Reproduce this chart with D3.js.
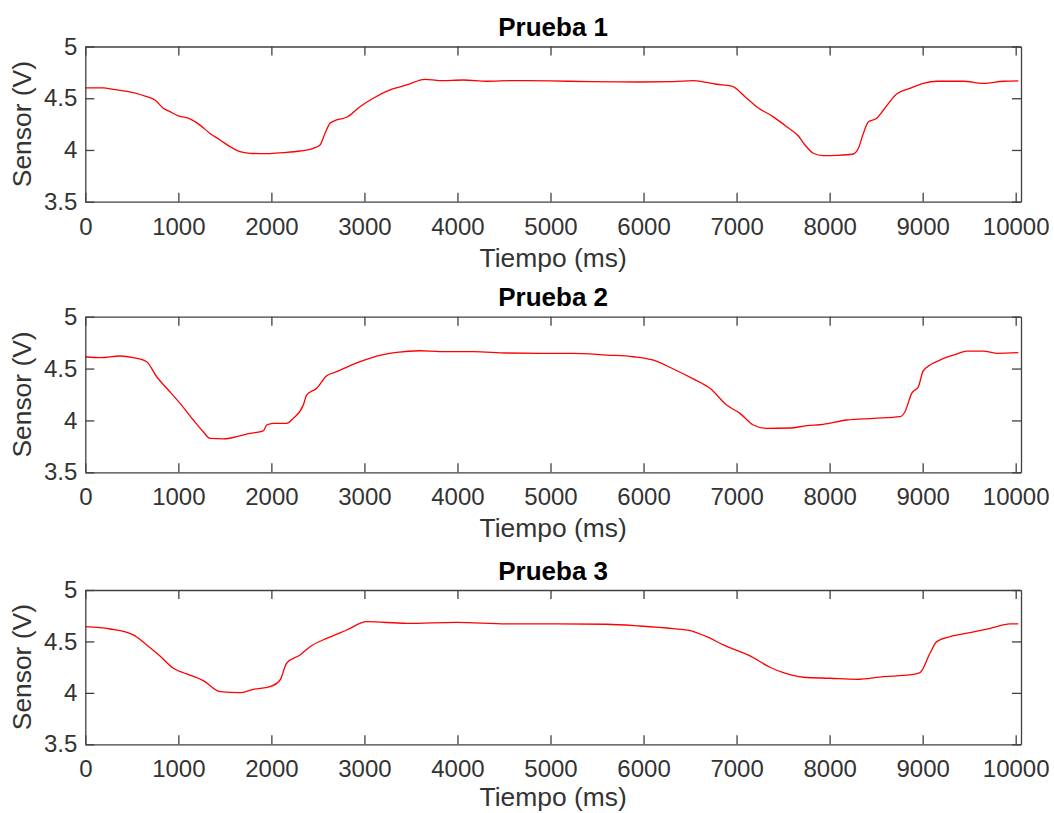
<!DOCTYPE html>
<html>
<head>
<meta charset="utf-8">
<script src="https://cdn.jsdelivr.net/npm/d3@7"></script>
<style>
  body { margin: 0; background: #fff; }
  svg { display: block; font-family: "Liberation Sans", Arial, Helvetica, sans-serif; }
</style>
</head>
<body>
<script>
// Data (time in ms, sensor in V)
const titles = ['Prueba 1', 'Prueba 2', 'Prueba 3'];
const xTicks = [0, 1000, 2000, 3000, 4000, 5000, 6000, 7000, 8000, 9000, 10000];
const yTicks = [3.5, 4, 4.5, 5];

const t1 = [0, 193, 301, 516, 660, 749, 838, 910, 1000, 1125, 1233, 1340, 1447, 1555, 1662, 1770, 1950, 2128, 2308, 2451, 2523, 2577, 2630, 2702, 2810, 2952, 3095, 3275, 3454, 3651, 3812, 4063, 4314, 4600, 4995, 5425, 5962, 6320, 6535, 6786, 6948, 7109, 7216, 7395, 7539, 7664, 7735, 7825, 7932, 8076, 8255, 8309, 8363, 8417, 8506, 8578, 8721, 8864, 9007, 9151, 9437, 9652, 9867, 10028];
const v1 = [4.60, 4.60, 4.586, 4.554, 4.515, 4.483, 4.403, 4.37, 4.33, 4.30, 4.24, 4.16, 4.097, 4.032, 3.984, 3.968, 3.964, 3.974, 3.99, 4.016, 4.048, 4.161, 4.258, 4.29, 4.316, 4.418, 4.50, 4.58, 4.628, 4.683, 4.67, 4.676, 4.664, 4.67, 4.667, 4.66, 4.657, 4.66, 4.67, 4.635, 4.618, 4.50, 4.418, 4.32, 4.225, 4.135, 4.048, 3.968, 3.945, 3.948, 3.961, 4.016, 4.161, 4.273, 4.306, 4.386, 4.541, 4.596, 4.644, 4.664, 4.664, 4.644, 4.664, 4.667];

const t2 = [0, 161, 373, 516, 660, 767, 875, 1018, 1161, 1268, 1340, 1484, 1627, 1770, 1913, 1950, 2021, 2164, 2236, 2343, 2379, 2487, 2594, 2702, 2952, 3132, 3347, 3598, 3812, 4170, 4529, 4887, 5245, 5604, 5890, 6088, 6320, 6535, 6714, 6894, 7037, 7180, 7323, 7574, 7753, 7932, 8183, 8470, 8757, 8810, 8882, 8954, 9007, 9186, 9365, 9473, 9652, 9795, 10028];
const v2 = [4.614, 4.605, 4.621, 4.605, 4.566, 4.421, 4.31, 4.165, 4.004, 3.891, 3.827, 3.823, 3.843, 3.875, 3.90, 3.956, 3.972, 3.972, 4.02, 4.148, 4.245, 4.31, 4.431, 4.47, 4.566, 4.621, 4.657, 4.672, 4.663, 4.663, 4.65, 4.647, 4.647, 4.63, 4.614, 4.585, 4.496, 4.40, 4.31, 4.148, 4.068, 3.956, 3.924, 3.927, 3.949, 3.962, 4.004, 4.02, 4.036, 4.084, 4.261, 4.325, 4.479, 4.582, 4.64, 4.669, 4.669, 4.647, 4.653];

const t3 = [0, 266, 516, 660, 803, 946, 1090, 1268, 1447, 1662, 1806, 1985, 2093, 2164, 2308, 2415, 2594, 2810, 3025, 3454, 3991, 4529, 5066, 5604, 5962, 6320, 6500, 6679, 6858, 7144, 7359, 7503, 7718, 8004, 8291, 8578, 8864, 8971, 9079, 9151, 9294, 9509, 9724, 9939, 10028];
const v3 = [4.643, 4.621, 4.563, 4.466, 4.359, 4.239, 4.184, 4.119, 4.012, 4.002, 4.035, 4.06, 4.125, 4.288, 4.368, 4.449, 4.53, 4.611, 4.692, 4.676, 4.686, 4.67, 4.67, 4.667, 4.65, 4.624, 4.605, 4.546, 4.466, 4.359, 4.249, 4.196, 4.152, 4.142, 4.132, 4.158, 4.174, 4.196, 4.385, 4.498, 4.546, 4.585, 4.627, 4.67, 4.67];

const times = [t1, t2, t3];
const volts = [v1, v2, v3];

const width = 1054, height = 813;
const left = 85.3, right = 1021;
const panels = [
    { top: 46.5, bottom: 201.7 },
    { top: 316.7, bottom: 472.3 },
    { top: 590, bottom: 744.3 }
];

const svg = d3.select('body')
    .append('svg')
    .attr('width', width)
    .attr('height', height);

const x = d3.scaleLinear()
    .domain([0, 10057])
    .range([left, right]);

const axisColor = '#404040';
const textColor = '#333333';

panels.forEach((p, i) => {
    const y = d3.scaleLinear()
        .domain([3.5, 5])
        .range([p.bottom, p.top]);

    const g = svg.append('g');

    // data line
    const line = d3.line()
        .x(d => x(d[0]))
        .y(d => y(d[1]))
        .curve(d3.curveMonotoneX);

    g.append('path')
        .datum(d3.zip(times[i], volts[i]))
        .attr('fill', 'none')
        .attr('stroke', '#ff0000')
        .attr('stroke-width', 1.3)
        .attr('d', line);

    // axes, ticks pointing inward on all four sides
    const bottomAxis = g.append('g')
        .attr('transform', `translate(0,${p.bottom})`)
        .call(d3.axisBottom(x).tickValues(xTicks).tickSize(-9).tickSizeOuter(0).tickPadding(16)
            .tickFormat(d => String(d)));
    const topAxis = g.append('g')
        .attr('transform', `translate(0,${p.top})`)
        .call(d3.axisTop(x).tickValues(xTicks).tickSize(-9).tickSizeOuter(0).tickFormat(''));
    const leftAxis = g.append('g')
        .attr('transform', `translate(${left},0)`)
        .call(d3.axisLeft(y).tickValues(yTicks).tickSize(-9).tickSizeOuter(0).tickPadding(8)
            .tickFormat(d => String(d)));
    const rightAxis = g.append('g')
        .attr('transform', `translate(${right},0)`)
        .call(d3.axisRight(y).tickValues(yTicks).tickSize(-9).tickSizeOuter(0).tickFormat(''));

    [bottomAxis, topAxis, leftAxis, rightAxis].forEach(a => {
        a.selectAll('path, line').attr('stroke', axisColor).attr('stroke-width', 1.3);
        a.selectAll('text')
            .attr('fill', textColor)
            .style('font-size', '24px')
            .style('font-family', '"Liberation Sans", Arial, sans-serif');
    });

    // title
    g.append('text')
        .attr('x', (left + right) / 2)
        .attr('y', p.top - 10.5)
        .attr('text-anchor', 'middle')
        .attr('fill', '#000')
        .style('font-size', '26px')
        .style('font-weight', 'bold')
        .text(titles[i]);

    // x label (last one nudged up so it stays inside the picture)
    g.append('text')
        .attr('x', (left + right) / 2)
        .attr('y', Math.min(p.bottom + 65, height - 7))
        .attr('text-anchor', 'middle')
        .attr('fill', textColor)
        .style('font-size', '26.4px')
        .text('Tiempo (ms)');

    // y label
    g.append('text')
        .attr('transform', `translate(31,${(p.top + p.bottom) / 2}) rotate(-90)`)
        .attr('text-anchor', 'middle')
        .attr('fill', textColor)
        .style('font-size', '26.4px')
        .text('Sensor (V)');
});
</script>
</body>
</html>
